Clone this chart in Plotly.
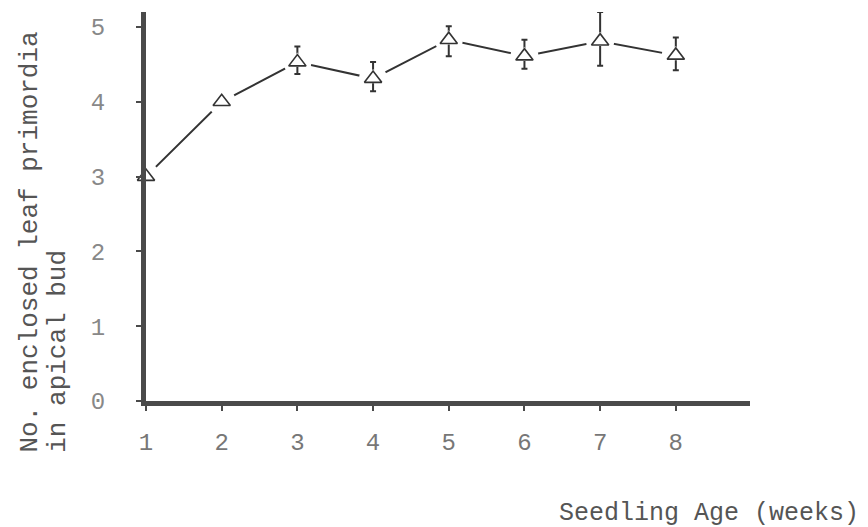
import plotly.graph_objects as go

weeks = [1, 2, 3, 4, 5, 6, 7, 8]
primordia = [3.0, 4.0, 4.53, 4.31, 4.83, 4.61, 4.81, 4.62]
err_plus = [0, 0, 0.21, 0.22, 0.18, 0.22, 0.39, 0.24]
err_minus = [0, 0, 0.16, 0.17, 0.22, 0.17, 0.33, 0.20]
x_ticks = [1, 2, 3, 4, 5, 6, 7, 8]
y_ticks = [0, 1, 2, 3, 4, 5]

FONT = "Liberation Mono"
INK = "#333333"

fig = go.Figure()
# connecting line
fig.add_trace(go.Scatter(
    x=weeks, y=primordia, mode="lines",
    line=dict(color=INK, width=2),
    cliponaxis=False, showlegend=False, hoverinfo="skip"))
# white halo to create gaps between line and markers
fig.add_trace(go.Scatter(
    x=weeks, y=primordia, mode="markers",
    marker=dict(symbol="circle", size=28, color="white", line=dict(width=0)),
    cliponaxis=False, showlegend=False, hoverinfo="skip"))
# error bars (small white halo only)
fig.add_trace(go.Scatter(
    x=weeks, y=primordia, mode="markers",
    marker=dict(symbol="triangle-up", size=19, color="white", line=dict(width=0)),
    error_y=dict(type="data", symmetric=False, array=err_plus, arrayminus=err_minus,
                 color=INK, thickness=2, width=3),
    cliponaxis=False, showlegend=False, hoverinfo="skip"))
# open triangles
fig.add_trace(go.Scatter(
    x=weeks, y=primordia, mode="markers",
    marker=dict(symbol="triangle-up", size=15, color="white", line=dict(color=INK, width=1.6)),
    cliponaxis=False, showlegend=False))

fig.update_layout(
    width=868, height=527,
    margin=dict(l=146, r=118, t=12, b=126),
    plot_bgcolor="white", paper_bgcolor="white",
    font=dict(family=FONT, size=24, color="#777777"),
    xaxis=dict(range=[1, 8.98], tickvals=x_ticks, ticktext=[str(v) for v in x_ticks],
               showgrid=False, zeroline=False, showline=True, linecolor="#4a4a4a", linewidth=5,
               ticks="outside", ticklen=5, tickwidth=2, tickcolor="#4a4a4a",
               ticklabelstandoff=10, tickfont=dict(family=FONT, size=24, color="#777777")),
    yaxis=dict(range=[0, 5.2], tickvals=y_ticks, ticktext=[str(v) for v in y_ticks],
               showgrid=False, zeroline=False, showline=True, linecolor="#4a4a4a", linewidth=5,
               ticks="outside", ticklen=5, tickwidth=2, tickcolor="#4a4a4a",
               ticklabelstandoff=26, tickfont=dict(family=FONT, size=24, color="#888888")),
    annotations=[
        dict(text="Seedling Age (weeks)", xref="paper", yref="paper", x=1.183, y=-0.29,
             xanchor="right", yanchor="middle", showarrow=False,
             font=dict(family=FONT, size=25, color="#555555")),
        dict(text="No. enclosed leaf primordia", xref="paper", yref="paper", x=-0.192, y=-0.139,
             xanchor="center", yanchor="bottom", textangle=-90, showarrow=False,
             font=dict(family=FONT, size=26, color="#555555")),
        dict(text="in apical bud", xref="paper", yref="paper", x=-0.147, y=-0.139,
             xanchor="center", yanchor="bottom", textangle=-90, showarrow=False,
             font=dict(family=FONT, size=26, color="#555555")),
    ],
)

fig.write_html("out.html")
